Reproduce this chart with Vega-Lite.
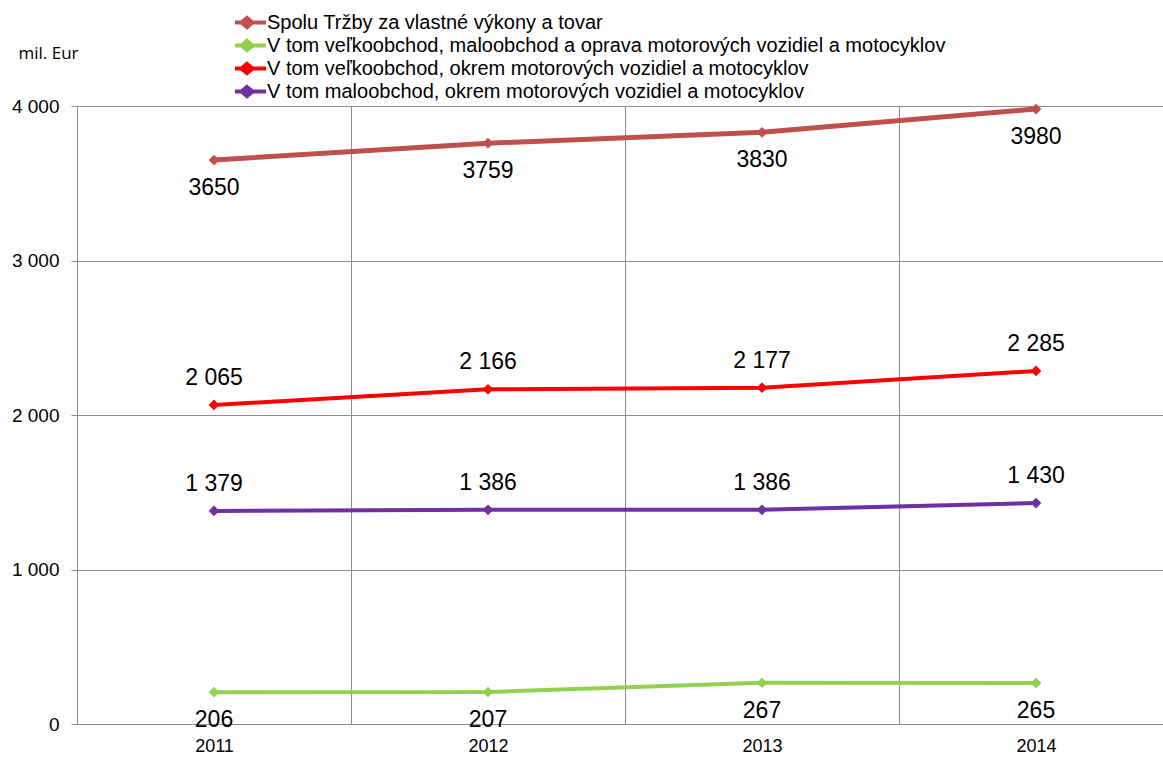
{
  "$schema": "https://vega.github.io/schema/vega-lite/v6.json",
  "width": 1086,
  "height": 618,
  "autosize": {"type": "none"},
  "padding": {"left": 77, "top": 106, "right": 0, "bottom": 34},
  "background": "white",
  "config": {"view": {"stroke": null}, "font": "Liberation Sans"},
  "data": {
    "values": [
      {"series": "Spolu Tržby za vlastné výkony a tovar", "year": "2011", "value": 3650},
      {"series": "Spolu Tržby za vlastné výkony a tovar", "year": "2012", "value": 3759},
      {"series": "Spolu Tržby za vlastné výkony a tovar", "year": "2013", "value": 3830},
      {"series": "Spolu Tržby za vlastné výkony a tovar", "year": "2014", "value": 3980},
      {"series": "V tom veľkoobchod, maloobchod a oprava motorových vozidiel a motocyklov", "year": "2011", "value": 206},
      {"series": "V tom veľkoobchod, maloobchod a oprava motorových vozidiel a motocyklov", "year": "2012", "value": 207},
      {"series": "V tom veľkoobchod, maloobchod a oprava motorových vozidiel a motocyklov", "year": "2013", "value": 267},
      {"series": "V tom veľkoobchod, maloobchod a oprava motorových vozidiel a motocyklov", "year": "2014", "value": 265},
      {"series": "V tom veľkoobchod, okrem motorových vozidiel a motocyklov", "year": "2011", "value": 2065},
      {"series": "V tom veľkoobchod, okrem motorových vozidiel a motocyklov", "year": "2012", "value": 2166},
      {"series": "V tom veľkoobchod, okrem motorových vozidiel a motocyklov", "year": "2013", "value": 2177},
      {"series": "V tom veľkoobchod, okrem motorových vozidiel a motocyklov", "year": "2014", "value": 2285},
      {"series": "V tom maloobchod, okrem motorových vozidiel a motocyklov", "year": "2011", "value": 1379},
      {"series": "V tom maloobchod, okrem motorových vozidiel a motocyklov", "year": "2012", "value": 1386},
      {"series": "V tom maloobchod, okrem motorových vozidiel a motocyklov", "year": "2013", "value": 1386},
      {"series": "V tom maloobchod, okrem motorových vozidiel a motocyklov", "year": "2014", "value": 1430}
    ]
  },
  "transform": [
    {"calculate": "datum.series === 'Spolu Tržby za vlastné výkony a tovar' ? format(datum.value, 'd') : replace(format(datum.value, ','), ',', ' ')", "as": "label"}
  ],
  "encoding": {
    "x": {
      "field": "year",
      "type": "ordinal",
      "scale": {"type": "band", "range": [0, 1096], "paddingInner": 0, "paddingOuter": 0},
      "axis": {
        "title": null,
        "tickBand": "extent",
        "grid": true,
        "gridColor": "#8c8c8c",
        "gridOpacity": 1,
        "ticks": false,
        "labelAngle": 0,
        "labelFontSize": 18,
        "labelPadding": 13,
        "labelColor": "black",
        "domainColor": "#8c8c8c"
      }
    },
    "y": {
      "field": "value",
      "type": "quantitative",
      "scale": {"domain": [0, 4000], "nice": false},
      "axis": {
        "title": "mil. Eur",
        "titleAngle": 0,
        "titleX": -59,
        "titleY": -53,
        "titleAlign": "left",
        "titleBaseline": "middle",
        "titleFont": "Open Sans",
        "titleFontSize": 17,
        "titleFontWeight": "normal",
        "titleColor": "black",
        "values": [0, 1000, 2000, 3000, 4000],
        "grid": true,
        "gridColor": "#8c8c8c",
        "gridOpacity": 1,
        "tickSize": 6,
        "tickColor": "#8c8c8c",
        "domainColor": "#8c8c8c",
        "labelFontSize": 19,
        "labelPadding": 12,
        "labelColor": "black",
        "labelExpr": "replace(format(datum.value, ','), ',', ' ')"
      }
    },
    "color": {
      "field": "series",
      "type": "nominal",
      "scale": {
        "domain": [
          "Spolu Tržby za vlastné výkony a tovar",
          "V tom veľkoobchod, maloobchod a oprava motorových vozidiel a motocyklov",
          "V tom veľkoobchod, okrem motorových vozidiel a motocyklov",
          "V tom maloobchod, okrem motorových vozidiel a motocyklov"
        ],
        "range": ["#C0504D", "#92D050", "#FF0000", "#7030A0"]
      },
      "legend": {
        "title": null,
        "orient": "none",
        "legendX": 158,
        "legendY": -95,
        "symbolType": "M-1.97,0H1.97M0,-0.47L0.57,0L0,0.47L-0.57,0Z",
        "symbolSize": 372,
        "symbolStrokeWidth": 4,
        "labelFontSize": 20,
        "labelOffset": 8,
        "labelLimit": 0,
        "labelColor": "black",
        "rowPadding": 0,
        "clipHeight": 23,
        "encode": {
          "symbols": {
            "update": {
              "stroke": {"scale": "color", "field": "value"},
              "fill": {"scale": "color", "field": "value"},
              "strokeWidth": {"value": 4},
              "opacity": {"value": 1}
            }
          }
        }
      }
    }
  },
  "layer": [
    {
      "mark": {"type": "line"},
      "encoding": {
        "strokeWidth": {"condition": {"test": "datum.series === 'Spolu Tržby za vlastné výkony a tovar'", "value": 5}, "value": 4}
      }
    },
    {"mark": {"type": "point", "shape": "diamond", "filled": true, "size": 115, "opacity": 1}},
    {
      "transform": [{"filter": {"field": "series", "oneOf": ["Spolu Tržby za vlastné výkony a tovar", "V tom veľkoobchod, maloobchod a oprava motorových vozidiel a motocyklov"]}}],
      "mark": {"type": "text", "fontSize": 23, "dy": 28, "baseline": "middle", "align": "center", "color": "black"},
      "encoding": {"text": {"field": "label"}, "color": {"value": "black"}}
    },
    {
      "transform": [{"filter": {"field": "series", "oneOf": ["V tom veľkoobchod, okrem motorových vozidiel a motocyklov", "V tom maloobchod, okrem motorových vozidiel a motocyklov"]}}],
      "mark": {"type": "text", "fontSize": 23, "dy": -27, "baseline": "middle", "align": "center", "color": "black"},
      "encoding": {"text": {"field": "label"}, "color": {"value": "black"}}
    }
  ]
}
